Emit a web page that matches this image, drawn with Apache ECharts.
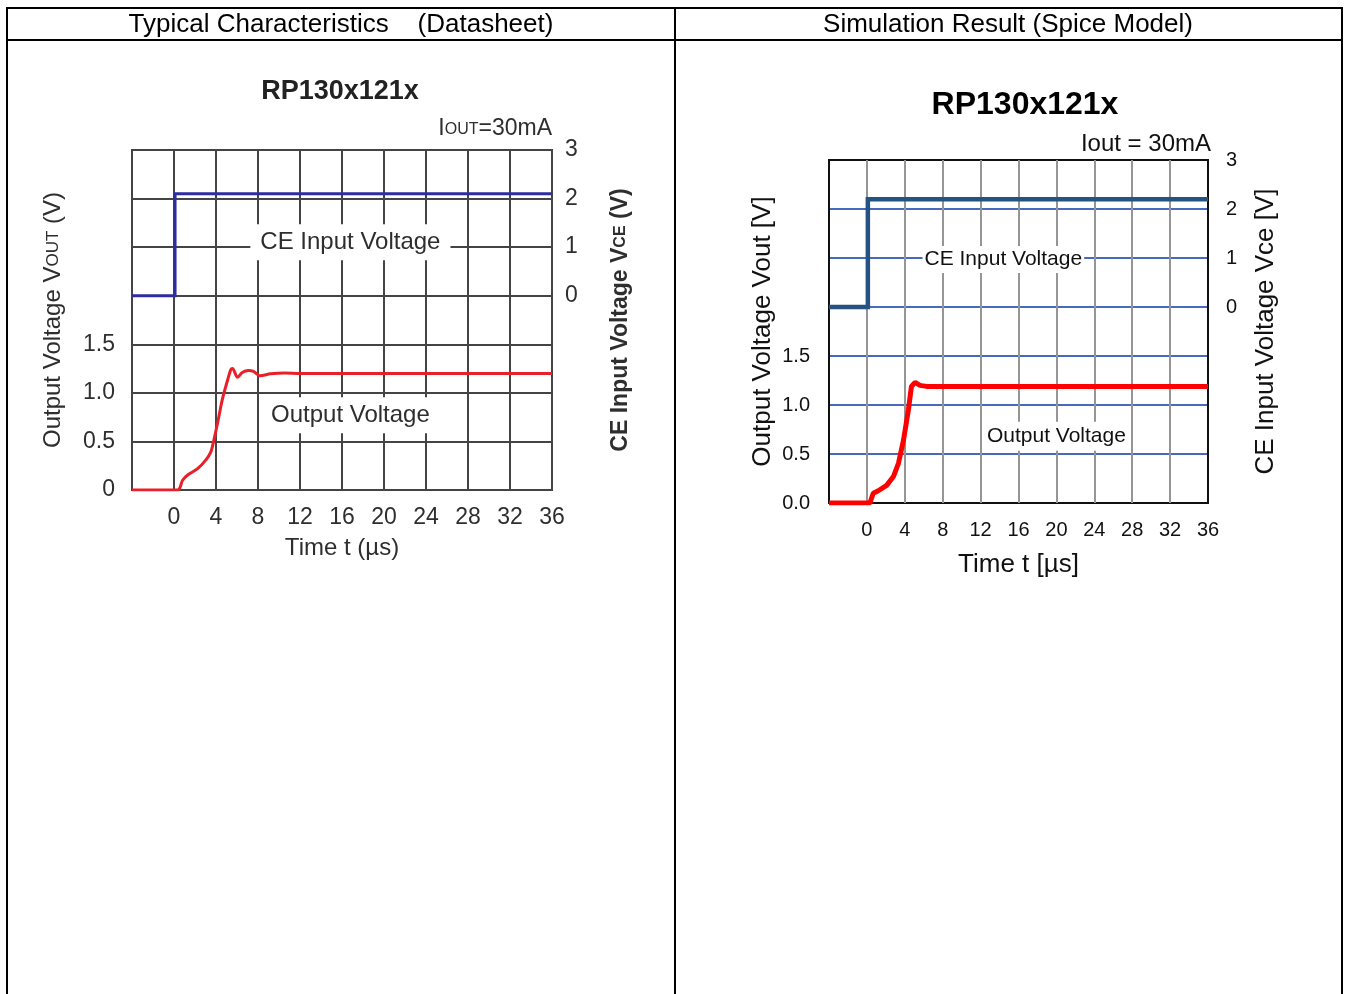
<!DOCTYPE html>
<html><head><meta charset="utf-8">
<script src="https://cdn.jsdelivr.net/npm/echarts@6/dist/echarts.min.js"></script>
<style>html,body{margin:0;padding:0;background:#fff;overflow:hidden}#c{width:1348px;height:994px}</style>
</head><body><div id="c"></div>
<script>
// ---------- data ----------
const timeTickLabels = ['0','4','8','12','16','20','24','28','32','36'];
const dsVoutTickLabels = ['0','0.5','1.0','1.5'];
const simVoutTickLabels = ['0.0','0.5','1.0','1.5'];
const vceTickLabels = ['0','1','2','3'];

// Datasheet (left)
const dsCeT  = [-4, 0.1, 0.1, 36];
const dsCeV  = [0, 0, 2.1, 2.1];
const dsOutT = [-4, 0.35, 0.82, 1.3, 2.25, 3.04, 3.5, 3.77, 4.15, 4.6, 5.1, 5.41, 5.57, 6.05, 6.5, 7.1, 7.56, 8.2, 9.2, 10.5, 12, 36];
const dsOutV = [0, 0, 0.10, 0.155, 0.22, 0.31, 0.39, 0.50, 0.69, 0.93, 1.13, 1.24, 1.25, 1.16, 1.21, 1.23, 1.22, 1.175, 1.196, 1.205, 1.2, 1.2];

// Simulation (right)
const simCeT  = [-4, 0.1, 0.1, 36];
const simCeV  = [0, 0, 2.2, 2.2];
const simOutT = [-4, 0.32, 0.67, 1.2, 2.08, 2.8, 3.33, 3.86, 4.38, 4.7, 5.08, 5.6, 6.3, 36];
const simOutV = [0, 0, 0.10, 0.125, 0.18, 0.27, 0.405, 0.64, 0.95, 1.19, 1.23, 1.20, 1.19, 1.19];

// label anchors (data units)
const dsCeLabelAt = [16.8, 1.1];
const dsOutLabelAt = [16.8, 0.77];
const simCeLabelAt = [14.4, 0.97];
const simOutLabelAt = [20.0, 0.68];

const pairs = (xs, ys) => xs.map((x, i) => [x, ys[i]]);
const FF = '"Liberation Sans", Arial, sans-serif';
const dsTxt = '#2e2e2e';
const simTxt = '#111';

const chart = echarts.init(document.getElementById('c'), null, {renderer: 'canvas'});

function fmtTime(v) { const i = Math.round(v / 4); return (v >= 0 && timeTickLabels[i] !== undefined) ? timeTickLabels[i] : ''; }
function fmtVout(arr) { return v => { const i = Math.round(v / 0.5); return arr[i] !== undefined ? arr[i] : ''; }; }
function fmtVce(v) { return (v >= 0 && vceTickLabels[v] !== undefined) ? vceTickLabels[v] : ''; }

function labelPoint(coord, text, opts) {
  return {
    symbol: 'rect', symbolSize: 1, silent: true, animation: false,
    itemStyle: {color: 'rgba(0,0,0,0)'},
    data: [{coord: coord, label: Object.assign({show: true, position: 'inside', formatter: text, backgroundColor: '#fff', fontFamily: FF}, opts)}]
  };
}

const dsGrid = '#444';
const simBorder = '#111';
const simV = '#959595';
const simH = '#0b38a8';
// split line colour lists: edges drawn as the black frame
const simVColors = [simBorder, simV, simV, simV, simV, simV, simV, simV, simV, simV, simBorder];
const simHColors = [simBorder, simH, simH, simH, simH, simH, simH, simBorder];

const option = {
  animation: false,
  backgroundColor: '#fff',
  grid: [
    {left: 132, top: 150, width: 420, height: 340, show: true, borderColor: dsGrid, borderWidth: 2, backgroundColor: 'transparent'},
    {left: 829, top: 160, width: 379, height: 343, show: true, borderColor: simBorder, borderWidth: 2, backgroundColor: 'transparent'}
  ],
  xAxis: [
    {gridIndex: 0, type: 'value', min: -4, max: 36, interval: 4,
     axisLine: {show: false}, axisTick: {show: false},
     axisLabel: {formatter: fmtTime, fontSize: 23, color: dsTxt, margin: 16, fontFamily: FF},
     splitLine: {show: true, lineStyle: {color: dsGrid, width: 2}},
     name: 'Time t (µs)', nameLocation: 'middle', nameGap: 46,
     nameTextStyle: {fontSize: 24, color: dsTxt, fontFamily: FF}},
    {gridIndex: 1, type: 'value', min: -4, max: 36, interval: 4,
     axisLine: {show: false}, axisTick: {show: false},
     axisLabel: {formatter: fmtTime, fontSize: 20, color: simTxt, margin: 17, fontFamily: FF},
     splitLine: {show: true, lineStyle: {color: simVColors, width: 2}},
     name: 'Time t [µs]', nameLocation: 'middle', nameGap: 49,
     nameTextStyle: {fontSize: 26, color: simTxt, fontFamily: FF}}
  ],
  yAxis: [
    {gridIndex: 0, type: 'value', position: 'left', min: 0, max: 3.5, interval: 0.5,
     axisLine: {show: false}, axisTick: {show: false},
     axisLabel: {formatter: fmtVout(dsVoutTickLabels), fontSize: 23, color: dsTxt, margin: 17, fontFamily: FF},
     splitLine: {show: true, lineStyle: {color: dsGrid, width: 2}},
     name: 'Output Voltage V{s|OUT} (V)', nameLocation: 'middle', nameRotate: 90, nameGap: 67,
     nameTextStyle: {fontSize: 24, color: dsTxt, fontFamily: FF,
       rich: {s: {fontSize: 17, color: dsTxt, fontFamily: FF}}}},
    {gridIndex: 0, type: 'value', position: 'right', min: -4, max: 3, interval: 1,
     axisLine: {show: false}, axisTick: {show: false},
     axisLabel: {formatter: fmtVce, fontSize: 23, color: dsTxt, margin: 13, fontFamily: FF},
     splitLine: {show: false},
     name: 'CE Input Voltage V{s|CE} (V)', nameLocation: 'middle', nameRotate: 90, nameGap: 57,
     nameTextStyle: {fontSize: 23, fontWeight: 'bold', color: dsTxt, fontFamily: FF,
       rich: {s: {fontSize: 16, fontWeight: 'bold', color: dsTxt, fontFamily: FF}}}},
    {gridIndex: 1, type: 'value', position: 'left', min: 0, max: 3.5, interval: 0.5,
     axisLine: {show: false}, axisTick: {show: false},
     axisLabel: {formatter: fmtVout(simVoutTickLabels), fontSize: 20, color: simTxt, margin: 19, fontFamily: FF},
     splitLine: {show: true, lineStyle: {color: simHColors, width: 1.6}},
     name: 'Output Voltage Vout [V]', nameLocation: 'middle', nameRotate: 90, nameGap: 53,
     nameTextStyle: {fontSize: 26, color: simTxt, fontFamily: FF}},
    {gridIndex: 1, type: 'value', position: 'right', min: -4, max: 3, interval: 1,
     axisLine: {show: false}, axisTick: {show: false},
     axisLabel: {formatter: fmtVce, fontSize: 20, color: simTxt, margin: 18, fontFamily: FF},
     splitLine: {show: false},
     name: 'CE Input Voltage Vce [V]', nameLocation: 'middle', nameRotate: 90, nameGap: 45,
     nameTextStyle: {fontSize: 26, color: simTxt, fontFamily: FF}}
  ],
  series: [
    {type: 'line', xAxisIndex: 0, yAxisIndex: 1, data: pairs(dsCeT, dsCeV), symbol: 'none',
     lineStyle: {color: '#2d2da0', width: 3, join: 'miter'}, itemStyle: {color: '#2d2da0'}, z: 3,
     markPoint: labelPoint(dsCeLabelAt, 'CE Input Voltage', {fontSize: 24, color: dsTxt, padding: [6, 10]})},
    {type: 'line', xAxisIndex: 0, yAxisIndex: 0, data: pairs(dsOutT, dsOutV), symbol: 'none', smooth: 0.3,
     lineStyle: {color: '#e8202a', width: 3}, itemStyle: {color: '#e8202a'}, z: 3,
     markPoint: labelPoint(dsOutLabelAt, 'Output Voltage', {fontSize: 24, color: dsTxt, padding: [6, 9]})},
    {type: 'line', xAxisIndex: 1, yAxisIndex: 3, data: pairs(simCeT, simCeV), symbol: 'none',
     lineStyle: {color: '#245283', width: 4.5, join: 'miter'}, itemStyle: {color: '#245283'}, z: 3,
     markPoint: labelPoint(simCeLabelAt, 'CE Input Voltage', {fontSize: 21, color: simTxt, padding: [3, 2]})},
    {type: 'line', xAxisIndex: 1, yAxisIndex: 2, data: pairs(simOutT, simOutV), symbol: 'none',
     lineStyle: {color: '#ff0000', width: 5}, itemStyle: {color: '#ff0000'}, z: 3,
     markPoint: labelPoint(simOutLabelAt, 'Output Voltage', {fontSize: 21, color: simTxt, padding: [4, 2]})}
  ],
  graphic: [
    // table lines
    {type: 'line', shape: {x1: 6, y1: 8, x2: 1343, y2: 8}, style: {stroke: '#000', lineWidth: 2}},
    {type: 'line', shape: {x1: 6, y1: 40, x2: 1343, y2: 40}, style: {stroke: '#000', lineWidth: 2}},
    {type: 'line', shape: {x1: 7, y1: 7, x2: 7, y2: 994}, style: {stroke: '#000', lineWidth: 2}},
    {type: 'line', shape: {x1: 675, y1: 7, x2: 675, y2: 994}, style: {stroke: '#000', lineWidth: 2}},
    {type: 'line', shape: {x1: 1342, y1: 7, x2: 1342, y2: 994}, style: {stroke: '#000', lineWidth: 2}},
    // headers
    {type: 'text', x: 341, y: 25, style: {text: 'Typical Characteristics    (Datasheet)', fontSize: 26, fontFamily: FF, fill: '#000', align: 'center', verticalAlign: 'middle', textAlign: 'center', textVerticalAlign: 'middle'}},
    {type: 'text', x: 1008, y: 25, style: {text: 'Simulation Result (Spice Model)', fontSize: 26, fontFamily: FF, fill: '#000', align: 'center', verticalAlign: 'middle', textAlign: 'center', textVerticalAlign: 'middle'}},
    // chart titles
    {type: 'text', x: 340, y: 92, style: {text: 'RP130x121x', fontSize: 27, fontWeight: 'bold', fontFamily: FF, fill: '#222', align: 'center', verticalAlign: 'middle', textAlign: 'center', textVerticalAlign: 'middle'}},
    {type: 'text', x: 1025, y: 105, style: {text: 'RP130x121x', fontSize: 32, fontWeight: 'bold', fontFamily: FF, fill: '#000', align: 'center', verticalAlign: 'middle', textAlign: 'center', textVerticalAlign: 'middle'}},
    // conditions
    {type: 'text', x: 552, y: 127, style: {text: '{a|I}{s|OUT}{a|=30mA}', fontSize: 23, fontFamily: FF, fill: dsTxt, align: 'right', verticalAlign: 'middle', textAlign: 'right', textVerticalAlign: 'middle',
      rich: {a: {fontSize: 23, fontFamily: FF, fill: dsTxt, color: dsTxt, verticalAlign: 'bottom', lineHeight: 26}, s: {fontSize: 16, fontFamily: FF, fill: dsTxt, color: dsTxt, verticalAlign: 'bottom', lineHeight: 26, padding: [0, 0, 2, 0]}}}},
    {type: 'text', x: 1211, y: 144, style: {text: 'Iout = 30mA', fontSize: 24, fontFamily: FF, fill: simTxt, align: 'right', verticalAlign: 'middle', textAlign: 'right', textVerticalAlign: 'middle'}}
  ]
};
chart.setOption(option);
</script>
</body></html>
